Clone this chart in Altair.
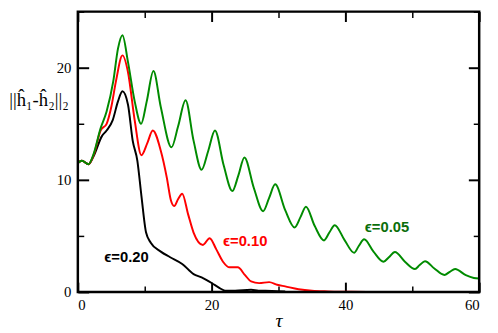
import altair as alt
import pandas as pd

# ---- data ----
tau_g = [0, 0.6, 1.6, 2.35, 3.4, 4.3, 5.3, 6.0, 6.67, 7.5, 8.5, 9.46, 10.3, 11.3, 12.4, 14.0,
         15.0, 16.1, 17.3, 18.5, 19.5, 20.5, 21.8, 23.1, 24.0, 24.9, 26.3, 27.7, 28.6, 29.5,
         31.0, 32.4, 33.3, 34.1, 35.4, 36.8, 37.6, 38.4, 39.9, 41.3, 42.0, 42.8, 44.2, 45.7,
         46.5, 47.4, 48.9, 50.4, 51.1, 51.9, 53.3, 54.8, 55.6, 56.4, 58.0, 59.2, 60.0]
val_g = [11.5, 11.7, 11.4, 12.3, 14.6, 16.1, 18.8, 21.7, 22.9, 20.5, 17.0, 15.0, 17.0, 19.7, 16.5, 12.9,
         14.8, 17.1, 13.5, 10.9, 12.6, 14.4, 11.3, 9.0, 10.4, 12.0, 9.3, 7.2, 8.4, 9.6,
         7.3, 5.76, 6.7, 7.6, 5.9, 4.6, 5.3, 5.96, 4.6, 3.5, 4.1, 4.7, 3.6, 2.7,
         3.1, 3.57, 2.7, 2.05, 2.4, 2.75, 2.1, 1.52, 1.8, 2.05, 1.5, 1.25, 1.2]

tau_r = [0, 0.6, 1.6, 2.35, 3.4, 4.3, 5.0, 5.7, 6.67, 7.5, 8.5, 9.5, 10.4, 11.2, 12.4, 13.3,
         13.9, 14.4, 15.0, 15.6, 16.5, 17.3, 18.7, 19.7, 20.7, 21.7, 22.7, 23.9, 25.0, 25.9,
         27.1, 28.6, 29.8, 31.0, 33.0, 35.0, 37.4, 40.0, 43.2]
val_r = [11.5, 11.7, 11.4, 12.2, 14.4, 15.0, 16.5, 18.8, 21.1, 19.6, 15.3, 12.2, 13.3, 14.4, 12.6, 10.2,
         8.2, 7.66, 8.3, 8.77, 6.9, 5.3, 4.2, 4.8, 3.8, 2.7, 2.2, 2.2, 1.5, 0.94,
         0.79, 0.88, 0.65, 0.5, 0.25, 0.11, 0.05, 0.02, 0.0]

tau_k = [0, 0.6, 1.6, 2.35, 3.6, 4.3, 5.2, 6.0, 6.67, 7.5, 8.2, 8.9, 9.5, 10.2, 10.9, 12.4,
         13.8, 15.6, 17.3, 18.5, 20.0, 21.2, 22.0, 23.5, 25.9, 27.0, 29.0, 31.0]
val_k = [11.5, 11.7, 11.4, 12.1, 13.9, 14.4, 15.3, 17.0, 17.9, 16.7, 13.5, 11.7, 8.6, 5.3, 4.4, 3.6,
         3.1, 2.5, 1.6, 1.3, 0.8, 0.35, 0.12, 0.12, 0.2, 0.12, 0.1, 0.05]

series = ["0.20", "0.10", "0.05"]
colors = ["#000000", "#ff0000", "#008b00"]
label_text = ["ϵ=0.20", "ϵ=0.10", "ϵ=0.05"]
label_tau = [3.95, 21.7, 42.9]
label_val = [3.07, 4.5, 5.76]
label_colors = ["#000000", "#ff0000", "#0a6e0a"]

x_major = [0, 20, 40, 60]
x_minor = [10, 30, 50]
y_major = [0, 10, 20]
y_minor = [5, 15, 25]
x_range = [0, 60]
y_range = [0, 25]

W, H = 408, 285

def frame(ts, vs, name):
    return pd.DataFrame({"tau": ts, "val": vs, "eps": name})

df_k = frame(tau_k, val_k, series[0])
df_r = frame(tau_r, val_r, series[1])
df_g = frame(tau_g, val_g, series[2])
df_lab = pd.DataFrame({"tau": label_tau, "val": label_val, "txt": label_text, "eps": series})
df_box = pd.DataFrame({"x0": [x_range[0]], "x1": [x_range[1]], "y0": [y_range[0]], "y1": [y_range[1]]})

xs = alt.Scale(domain=x_range, nice=False, zero=False)
ys = alt.Scale(domain=y_range, nice=False, zero=False)
cs = alt.Scale(domain=series, range=colors)

SERIF = "Liberation Serif, Times New Roman, serif"

def tick_axis(orient, offset, values, size, width):
    return alt.Axis(orient=orient, offset=offset, values=values, tickSize=size,
                    tickWidth=width, tickColor="black", labels=False, domain=False,
                    grid=False, title="")

main_x = alt.Axis(orient="bottom", values=x_major, tickSize=0, labelFont=SERIF,
                  labelFontSize=15, labelColor="black", labelPadding=6, domain=False,
                  grid=False, title="τ", titleFont=SERIF, titleFontSize=20,
                  titleFontStyle="italic", titleFontWeight="normal", titleColor="black",
                  titleY=29, titleBaseline="middle")
main_y = alt.Axis(orient="left", values=y_major, tickSize=0, labelFont=SERIF,
                  labelFontSize=15, labelColor="black", labelPadding=7, domain=False,
                  grid=False, title="||ĥ₁-ĥ₂||₂", titleFont=SERIF, titleFontSize=19,
                  titleFontWeight="normal", titleColor="black", titleAngle=0,
                  titleX=-40, titleY=89, titleAlign="center", titleBaseline="middle")

def line_layer(df, xaxis, yaxis, opacity=1.0):
    return alt.Chart(df).mark_line(interpolate="monotone", strokeWidth=2,
                                   opacity=opacity, clip=True).encode(
        x=alt.X("tau:Q", scale=xs, axis=xaxis),
        y=alt.Y("val:Q", scale=ys, axis=yaxis),
        color=alt.Color("eps:N", scale=cs, legend=None),
    )

box = alt.Chart(df_box).mark_rect(fill="transparent", stroke="#000000", strokeWidth=2.5).encode(
    x=alt.X("x0:Q", scale=xs, axis=main_x),
    x2="x1:Q",
    y=alt.Y("y0:Q", scale=ys, axis=main_y),
    y2="y1:Q",
)

l_k = line_layer(df_k, tick_axis("top", -H, x_major, 10, 2), tick_axis("right", -W, y_major, 11, 2))
l_r = line_layer(df_r, tick_axis("top", -H, x_minor, 6, 1.5), tick_axis("right", -W, y_minor, 6, 1.5))
l_g = line_layer(df_g, tick_axis("bottom", -H, x_major, 10, 2), tick_axis("left", -W, y_major, 11, 2))
l_t2 = line_layer(df_g, tick_axis("bottom", -H, x_minor, 6, 1.5), tick_axis("left", -W, y_minor, 6, 1.5), 0)

labels = alt.Chart(df_lab).mark_text(font="Liberation Sans", fontSize=15, fontWeight="bold",
                                     align="left", baseline="middle").encode(
    x=alt.X("tau:Q", scale=xs, axis=None),
    y=alt.Y("val:Q", scale=ys, axis=None),
    color=alt.Color("eps:N", scale=alt.Scale(domain=series, range=label_colors), legend=None),
    text="txt:N",
)

chart = alt.layer(l_t2, l_k, l_r, l_g, labels, box).resolve_axis(
    x="independent", y="independent"
).resolve_scale(color="independent").properties(
    width=W, height=H,
    autosize=alt.AutoSizeParams(type="none"),
    padding={"left": 71, "top": 1, "right": 11, "bottom": 40},
).configure_view(stroke=None).configure(background="white")

chart.save("out.html", embed_options={"renderer": "svg", "actions": False})
